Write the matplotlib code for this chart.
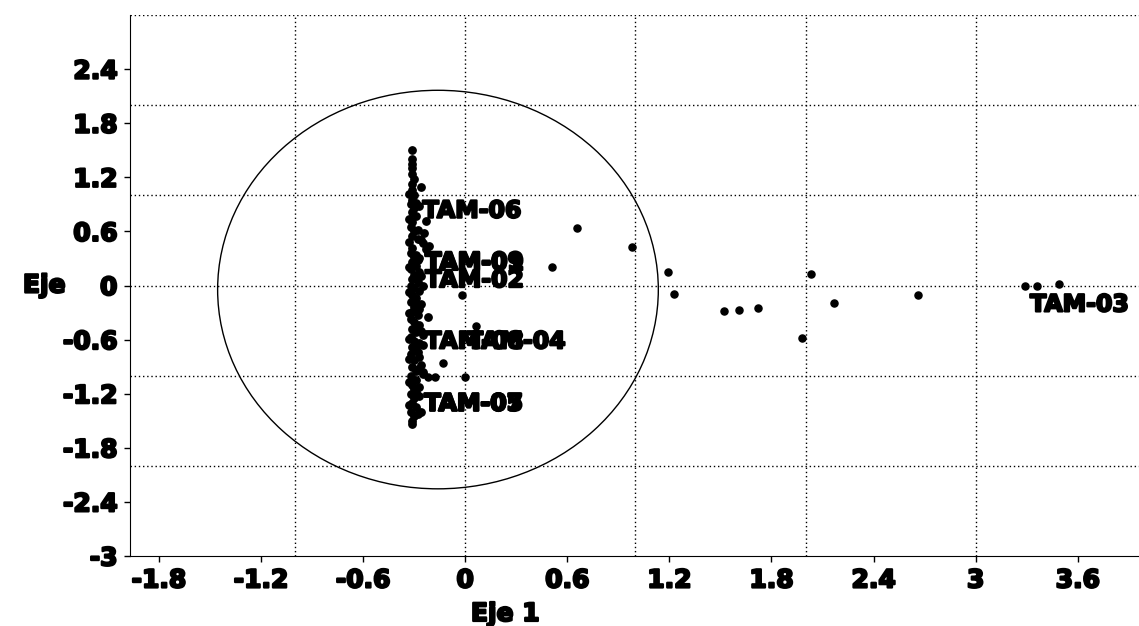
import matplotlib
matplotlib.use("Agg")
from matplotlib import pyplot as plt
from matplotlib.patches import Ellipse
import matplotlib.patheffects as pe
import numpy as np

# puntos del grupo denso (columna cerca de x = -0.3)
grupo_x = [-0.31, -0.31, -0.31, -0.31, -0.31, -0.30, -0.31, -0.26, -0.31, -0.30,
           -0.31, -0.32, -0.30, -0.31, -0.29, -0.23, -0.31, -0.32, -0.30, -0.31,
           -0.28, -0.25, -0.21, -0.23, -0.31, -0.32, -0.30, -0.27, -0.31, -0.29,
           -0.32, -0.27, -0.30, -0.31, -0.28, -0.32, -0.30, -0.27, -0.31, -0.29,
           -0.32, -0.26, -0.30, -0.31, -0.28, -0.32, -0.30, -0.27, -0.31, -0.29,
           -0.25, -0.32, -0.30, -0.27, -0.31, -0.29, -0.32, -0.27, -0.30, -0.26,
           -0.31, -0.29, -0.25, -0.32, -0.29, -0.31, -0.30, -0.32, -0.30, -0.31,
           -0.29, -0.32, -0.30, -0.31, -0.31,
           -0.33, -0.29, -0.33, -0.28, -0.33, -0.29, -0.33, -0.28, -0.33, -0.29,
           -0.33, -0.28, -0.33, -0.29, -0.33, -0.28, -0.33, -0.29, -0.33, -0.28,
           -0.24, -0.26, -0.22, -0.25, -0.27,
           -0.27, -0.26, -0.28, -0.25, -0.27, -0.26, -0.28, -0.25, -0.27, -0.26]
grupo_y = [1.50, 1.40, 1.35, 1.30, 1.24, 1.18, 1.13, 1.09, 1.06, 1.00,
           0.95, 0.90, 0.86, 0.81, 0.77, 0.72, 0.70, 0.65, 0.60, 0.55,
           0.52, 0.47, 0.44, 0.40, 0.42, 0.36, 0.32, 0.30, 0.26, 0.22,
           0.18, 0.15, 0.12, 0.07, 0.04, 0.00, -0.03, -0.06, -0.10, -0.14,
           -0.18, -0.21, -0.24, -0.29, -0.33, -0.37, -0.41, -0.44, -0.48, -0.52,
           -0.55, -0.57, -0.61, -0.64, -0.68, -0.72, -0.76, -0.79, -0.83, -0.88,
           -0.90, -0.95, -0.98, -1.00, -1.05, -1.10, -1.15, -1.20, -1.25, -1.30,
           -1.35, -1.40, -1.45, -1.50, -1.54,
           1.02, 0.92, 0.74, 0.62, 0.48, 0.34, 0.20, 0.09, -0.07, -0.20,
           -0.31, -0.45, -0.59, -0.70, -0.81, -0.93, -1.07, -1.18, -1.33, -1.43,
           0.58, 0.10, -0.35, -0.66, -1.13,
           0.88, 0.50, 0.28, -0.01, -0.26, -0.50, -0.74, -0.96, -1.22, -1.40]

# puntos dispersos
otros_x = [-0.02, 0.065, -0.13, -0.18, -0.22, 0.0, 0.51, 0.66, 0.98, 1.19, 1.23,
           1.52, 1.61, 1.72, 1.98, 2.03, 2.17, 2.66, 3.29, 3.36, 3.49]
otros_y = [-0.11, -0.45, -0.86, -1.02, -1.01, -1.02, 0.21, 0.64, 0.43, 0.155, -0.09,
           -0.28, -0.27, -0.25, -0.58, 0.125, -0.19, -0.11, -0.01, 0.0, 0.02]

etiquetas = ["TAM-06", "TAM-09", "TAM-01", "TAM-02", "TAM-08", "TAM-04",
             "TAM-07", "TAM-05", "TAM-03"]
etiq_x = [-0.25, -0.235, -0.235, -0.235, -0.235, 0.01, -0.24, -0.24, 3.32]
etiq_y = [0.83, 0.26, 0.25, 0.06, -0.62, -0.62, -1.31, -1.31, -0.21]

xticks = np.round(np.arange(-1.8, 3.7, 0.6), 1) + 0.0
yticks = np.round(np.arange(-3.0, 2.5, 0.6), 1) + 0.0

fig = plt.figure(figsize=(11.39, 6.26), dpi=100)
ax = fig.add_axes([130 / 1139, 70 / 626, 1009 / 1139, 541 / 626])

grueso = [pe.withStroke(linewidth=1.6, foreground="black")]

ax.scatter(grupo_x, grupo_y, s=28, color="black", zorder=3)
ax.scatter(otros_x, otros_y, s=26, color="black", zorder=3)

for t, x, y in zip(etiquetas, etiq_x, etiq_y):
    ax.text(x, y, t, fontsize=17, fontweight="bold", va="center", ha="left",
            color="black", zorder=4, path_effects=grueso)

ax.add_patch(Ellipse((-0.16, -0.045), 2.59, 4.42, fill=False, color="black", lw=1))

ax.set_xlim(-1.97, 3.96)
ax.set_ylim(-3, 3)

# cuadricula punteada en los enteros
for gx in [-1, 0, 1, 2, 3]:
    ax.axvline(gx, color="black", linestyle=(0, (1, 2)), linewidth=1, zorder=1)
for gy in [-2, -1, 0, 1, 2, 3]:
    ax.axhline(gy, color="black", linestyle=(0, (1, 2)), linewidth=1, zorder=1)

ax.spines["top"].set_visible(False)
ax.spines["right"].set_visible(False)
ax.set_xticks(xticks)
ax.set_yticks(yticks)
ax.set_xticklabels([f"{v:g}" for v in xticks])
ax.set_yticklabels([f"{v:g}" for v in yticks])
ax.tick_params(direction="out", length=4, width=1, labelsize=18, pad=5)
for lab in ax.get_xticklabels() + ax.get_yticklabels():
    lab.set_fontweight("bold")
    lab.set_path_effects(grueso)

ax.set_xlabel("Eje 1", fontsize=18, fontweight="bold", path_effects=grueso)
ax.xaxis.set_label_coords(0.372, -0.085)
ax.set_ylabel("Eje", fontsize=18, fontweight="bold", rotation=0,
              path_effects=grueso, va="center")
ax.yaxis.set_label_coords(-0.085, 0.5)

fig.savefig("out.png", dpi=100)
